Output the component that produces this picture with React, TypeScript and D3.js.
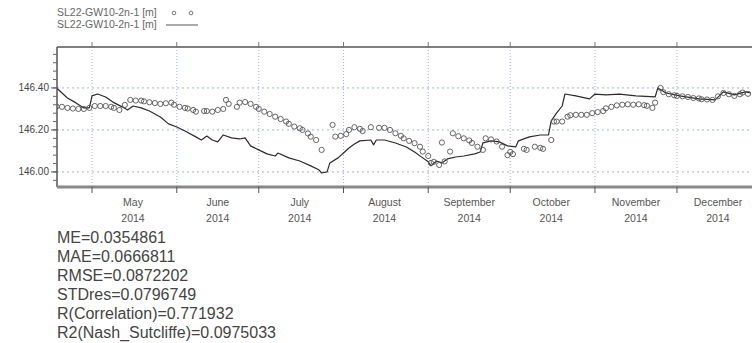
import React from "react";
import * as d3 from "d3";

const simDates = ["2014-04-18","2014-04-22","2014-04-25","2014-04-28","2014-04-30","2014-05-01","2014-05-03","2014-05-06","2014-05-09","2014-05-12","2014-05-14","2014-05-16","2014-05-19","2014-05-22","2014-05-26","2014-05-29","2014-06-01","2014-06-04","2014-06-08","2014-06-10","2014-06-12","2014-06-14","2014-06-16","2014-06-18","2014-06-21","2014-06-24","2014-06-26","2014-06-28","2014-07-01","2014-07-04","2014-07-07","2014-07-08","2014-07-12","2014-07-16","2014-07-20","2014-07-23","2014-07-24","2014-07-26","2014-07-27","2014-07-30","2014-08-01","2014-08-03","2014-08-05","2014-08-07","2014-08-11","2014-08-12","2014-08-13","2014-08-16","2014-08-20","2014-08-24","2014-08-27","2014-08-30","2014-09-01","2014-09-02","2014-09-04","2014-09-06","2014-09-08","2014-09-11","2014-09-14","2014-09-18","2014-09-20","2014-09-21","2014-09-24","2014-09-27","2014-09-30","2014-10-03","2014-10-04","2014-10-08","2014-10-12","2014-10-15","2014-10-16","2014-10-18","2014-10-20","2014-10-21","2014-10-25","2014-10-30","2014-11-01","2014-11-05","2014-11-10","2014-11-16","2014-11-23","2014-11-24","2014-11-27","2014-12-02","2014-12-09","2014-12-15","2014-12-18","2014-12-22","2014-12-26","2014-12-28"];
const simValues = [146.400,146.352,146.330,146.305,146.305,146.362,146.371,146.357,146.330,146.310,146.295,146.314,146.305,146.290,146.262,146.229,146.214,146.195,146.167,146.152,146.171,146.152,146.143,146.176,146.162,146.157,146.162,146.124,146.105,146.086,146.076,146.090,146.067,146.052,146.029,146.010,145.995,146.000,146.043,146.067,146.090,146.114,146.133,146.148,146.152,146.129,146.152,146.152,146.138,146.119,146.095,146.067,146.048,146.029,146.052,146.043,146.062,146.071,146.076,146.086,146.095,146.138,146.148,146.143,146.124,146.119,146.148,146.167,146.176,146.176,146.243,146.281,146.314,146.371,146.362,146.348,146.371,146.367,146.371,146.362,146.357,146.400,146.376,146.362,146.348,146.343,146.381,146.367,146.381,146.376];

const obsDates = ["2014-04-18","2014-04-20","2014-04-22","2014-04-24","2014-04-26","2014-04-28","2014-04-30","2014-05-02","2014-05-04","2014-05-06","2014-05-08","2014-05-09","2014-05-11","2014-05-13","2014-05-15","2014-05-17","2014-05-19","2014-05-20","2014-05-22","2014-05-24","2014-05-26","2014-05-28","2014-05-30","2014-05-31","2014-06-02","2014-06-04","2014-06-05","2014-06-07","2014-06-08","2014-06-11","2014-06-12","2014-06-14","2014-06-16","2014-06-18","2014-06-19","2014-06-20","2014-06-23","2014-06-24","2014-06-26","2014-06-28","2014-06-30","2014-07-01","2014-07-03","2014-07-05","2014-07-07","2014-07-09","2014-07-11","2014-07-12","2014-07-14","2014-07-16","2014-07-17","2014-07-19","2014-07-20","2014-07-22","2014-07-24","2014-07-28","2014-07-29","2014-07-31","2014-08-02","2014-08-03","2014-08-05","2014-08-07","2014-08-08","2014-08-11","2014-08-14","2014-08-16","2014-08-18","2014-08-20","2014-08-22","2014-08-23","2014-08-25","2014-08-27","2014-08-29","2014-08-30","2014-09-01","2014-09-02","2014-09-03","2014-09-05","2014-09-06","2014-09-07","2014-09-09","2014-09-10","2014-09-12","2014-09-14","2014-09-16","2014-09-17","2014-09-19","2014-09-21","2014-09-22","2014-09-24","2014-09-26","2014-09-28","2014-09-30","2014-10-01","2014-10-02","2014-10-06","2014-10-07","2014-10-10","2014-10-12","2014-10-13","2014-10-16","2014-10-17","2014-10-18","2014-10-20","2014-10-22","2014-10-23","2014-10-25","2014-10-27","2014-10-29","2014-10-31","2014-11-02","2014-11-04","2014-11-05","2014-11-07","2014-11-09","2014-11-11","2014-11-13","2014-11-15","2014-11-17","2014-11-19","2014-11-20","2014-11-22","2014-11-23","2014-11-25","2014-11-26","2014-11-28","2014-11-30","2014-12-01","2014-12-03","2014-12-05","2014-12-07","2014-12-09","2014-12-10","2014-12-12","2014-12-14","2014-12-16","2014-12-18","2014-12-20","2014-12-22","2014-12-24","2014-12-25","2014-12-27"];
const obsValues = [146.312,146.310,146.305,146.302,146.300,146.300,146.305,146.314,146.314,146.314,146.310,146.305,146.295,146.319,146.343,146.340,146.340,146.336,146.332,146.328,146.324,146.327,146.330,146.320,146.310,146.305,146.302,146.295,146.287,146.290,146.290,146.287,146.295,146.300,146.343,146.324,146.310,146.330,146.333,146.324,146.310,146.300,146.287,146.276,146.263,146.252,146.240,146.229,146.216,146.208,146.200,146.183,146.168,146.152,146.105,146.224,146.168,146.172,146.180,146.200,146.213,146.205,146.195,146.213,146.210,146.210,146.200,146.184,146.172,146.160,146.148,146.137,146.120,146.097,146.076,146.043,146.048,146.033,146.140,146.050,146.097,146.184,146.170,146.160,146.150,146.138,146.120,146.105,146.160,146.155,146.145,146.120,146.080,146.095,146.085,146.110,146.105,146.120,146.115,146.110,146.152,146.240,146.240,146.240,146.263,146.270,146.272,146.272,146.272,146.280,146.285,146.290,146.303,146.310,146.317,146.320,146.322,146.320,146.322,146.318,146.315,146.305,146.330,146.400,146.380,146.370,146.365,146.362,146.360,146.357,146.352,146.350,146.346,146.345,146.343,146.360,146.376,146.370,146.362,146.370,146.378,146.372];

const monthNames = ["May","June","July","August","September","October","November","December"];
const yearLabel = "2014";
const yTickValues = [146.0, 146.2, 146.4];
const yTickLabels = ["146.00", "146.20", "146.40"];
const legendLabel = "SL22-GW10-2n-1 [m]";
const statLines = [
  "ME=0.0354861",
  "MAE=0.0666811",
  "RMSE=0.0872202",
  "STDres=0.0796749",
  "R(Correlation)=0.771932",
  "R2(Nash_Sutcliffe)=0.0975033",
];

const parse = d3.timeParse("%Y-%m-%d");

export default function App() {
  const W = 752, H = 343;
  const left = 57, top = 47, bottom = 187, right = 756;
  const x = d3.scaleTime()
    .domain([new Date(2014, 3, 18), new Date(2014, 11, 29)])
    .range([56.5, 753.5]);
  const y = d3.scaleLinear().domain([145.933, 146.595]).range([186, 47]);

  const sim = simDates.map((d, i) => ({ t: parse(d)!, v: simValues[i] }));
  const obs = obsDates.map((d, i) => ({ t: parse(d)!, v: obsValues[i] }));
  const line = d3.line<{ t: Date; v: number }>().x(d => x(d.t)).y(d => y(d.v));

  const monthStarts = d3.timeMonth.range(new Date(2014, 4, 1), new Date(2014, 11, 2));
  const minorTicks = d3.range(145.96, 146.58, 0.04).map(v => +v.toFixed(2));
  const font = "'Liberation Sans', Arial, sans-serif";

  return (
    <div style={{ position: "absolute", left: 0, top: 0 }}>
      <svg width={W} height={H} style={{ display: "block", background: "#fff" }}>
        {/* legend */}
        <g fontFamily={font} fontSize={10.5} fill="#666">
          <text x={57} y={16}>{legendLabel}</text>
          <text x={57} y={28}>{legendLabel}</text>
          <circle cx={174} cy={13} r={1.8} fill="none" stroke="#777" strokeWidth={1} />
          <circle cx={191} cy={13} r={1.8} fill="none" stroke="#777" strokeWidth={1} />
          <line x1={166} x2={198} y1={25} y2={25} stroke="#555" strokeWidth={1} />
        </g>

        <defs>
          <clipPath id="plotclip">
            <rect x={left} y={top} width={right - left} height={bottom - top} />
          </clipPath>
        </defs>

        {/* grid */}
        {yTickValues.map(v => (
          <line key={"gy" + v} x1={left} x2={right} y1={y(v)} y2={y(v)}
            stroke="#9fb2dc" strokeWidth={1} strokeDasharray="2,3" />
        ))}
        {monthStarts.map(m => (
          <line key={"gx" + m.getTime()} x1={x(m)} x2={x(m)} y1={top} y2={bottom}
            stroke="#9fb2dc" strokeWidth={1} strokeDasharray="1,2" />
        ))}

        {/* data */}
        <g clipPath="url(#plotclip)">
          <path d={line(sim) || ""} fill="none" stroke="#2b2b2b" strokeWidth={1.2} strokeLinejoin="round" />
          {obs.map((d, i) => (
            <circle key={i} cx={x(d.t)} cy={y(d.v)} r={2.6} fill="none" stroke="#555" strokeWidth={0.9} />
          ))}
        </g>

        {/* frame */}
        <line x1={left} x2={right} y1={top} y2={top} stroke="#555" strokeWidth={1.5} />
        <line x1={left} x2={left} y1={top} y2={bottom} stroke="#555" strokeWidth={1.5} />
        <line x1={left} x2={right} y1={bottom} y2={bottom} stroke="#888" strokeWidth={3} />

        {/* y ticks */}
        {minorTicks.map(v => (
          <line key={"mt" + v} x1={left - 4} x2={left} y1={y(v)} y2={y(v)} stroke="#666" strokeWidth={1} />
        ))}
        {yTickValues.map((v, i) => (
          <g key={"yt" + v}>
            <line x1={left - 6} x2={left} y1={y(v)} y2={y(v)} stroke="#555" strokeWidth={1} />
            <text x={49} y={y(v) + 3.5} textAnchor="end" fontFamily={font} fontSize={10} fill="#444">{yTickLabels[i]}</text>
          </g>
        ))}

        {/* x ticks and labels */}
        {monthStarts.map(m => (
          <g key={"xt" + m.getTime()}>
            <line x1={x(m)} x2={x(m)} y1={bottom} y2={bottom + 6} stroke="#555" strokeWidth={1} />
            <line x1={x(m)} x2={x(m)} y1={top - 5} y2={top} stroke="#777" strokeWidth={1} />
          </g>
        ))}
        {monthStarts.map((m, i) => {
          const mid = new Date(2014, m.getMonth(), 16);
          return (
            <g key={"xl" + i} fontFamily={font} fontSize={10.5} fill="#555" textAnchor="middle">
              <text x={x(mid)} y={206}>{monthNames[i]}</text>
              <text x={x(mid)} y={222}>{yearLabel}</text>
            </g>
          );
        })}

        {/* stats */}
        <g fontFamily={font} fontSize={16} fill="#444">
          {statLines.map((s, i) => (
            <text key={s} x={57} y={243 + i * 19}>{s}</text>
          ))}
        </g>
      </svg>
    </div>
  );
}
